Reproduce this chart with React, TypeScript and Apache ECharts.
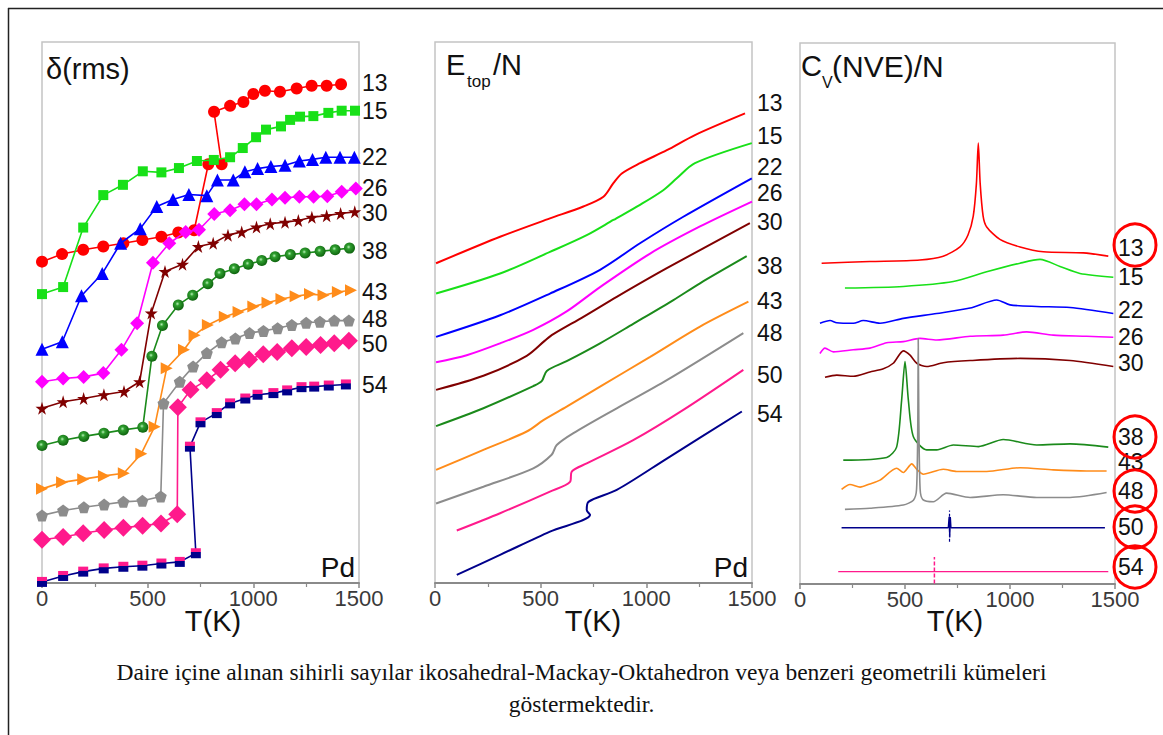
import React, { useEffect, useRef } from "react";
import * as echarts from "echarts";

// ---------- data ----------
const clusterSizes = ["13", "15", "22", "26", "30", "38", "43", "48", "50", "54"];
const tempTicks = [0, 500, 1000, 1500];
const magicSizes = ["13", "38", "48", "50", "54"];

// delta(rms) vs T (arbitrary offset units)
const d13 = [[0,59.4],[95,60.8],[195,61.6],[290,62.2],[385,62.8],[475,63.4],[565,64.0],[645,64.8],[720,65.2],[787,77.4],[850,77.4],[814,87.1],[890,88.2],[953,88.9],[1000,90.4],[1055,91.0],[1126,90.8],[1205,91.4],[1276,91.9],[1347,91.9],[1415,92.2]];
const d15 = [[0,53.4],[100,54.7],[195,65.7],[290,71.7],[383,73.6],[477,76.1],[565,75.9],[648,76.7],[733,78.0],[813,78.2],[890,78.7],[950,80.4],[1013,82.4],[1060,83.8],[1131,84.4],[1174,85.6],[1221,86.2],[1284,86.3],[1355,86.9],[1418,87.3],[1481,87.3]];
const d22 = [[0,43.2],[96,44.6],[187,53.1],[285,57.2],[372,62.8],[465,65.5],[543,69.6],[620,70.9],[695,71.8],[780,71.6],[830,74.5],[905,74.5],[960,76.0],[1020,76.6],[1083,77.0],[1150,77.2],[1218,78.0],[1280,78.3],[1343,78.7],[1410,78.7],[1478,78.7]];
const d26 = [[0,37.2],[100,37.8],[197,38.1],[290,38.8],[376,43.1],[450,48.0],[525,59.2],[602,62.8],[680,64.9],[743,65.3],[815,68.2],[890,68.9],[958,70.0],[1015,70.0],[1088,70.9],[1150,71.2],[1218,71.4],[1285,71.4],[1350,71.5],[1418,72.3],[1485,72.9]];
const d30 = [[0,32.3],[100,33.5],[197,34.1],[293,34.8],[388,35.4],[462,37.2],[517,49.9],[582,57.6],[665,58.9],[740,62.2],[810,62.8],[880,64.3],[945,64.9],[1015,65.8],[1080,66.4],[1150,66.7],[1213,67.0],[1277,67.6],[1347,67.9],[1413,68.3],[1480,68.6]];
const d38 = [[0,25.4],[100,26.4],[198,27.1],[293,27.7],[385,28.3],[477,28.8],[520,41.9],[570,47.6],[645,51.4],[713,53.2],[785,55.3],[842,57.2],[910,58.1],[976,58.9],[1040,59.6],[1103,60.3],[1175,60.7],[1245,61.0],[1316,61.3],[1387,61.6],[1455,61.9]];
const d43 = [[0,17.4],[95,18.6],[195,19.2],[293,19.8],[387,20.3],[470,23.9],[533,28.9],[590,39.7],[672,43.1],[722,45.8],[785,47.7],[865,49.2],[930,50.1],[1000,51.1],[1067,51.8],[1133,52.5],[1200,53.0],[1268,53.4],[1332,53.2],[1400,53.8],[1462,54.1]];
const d48 = [[0,12.5],[100,13.4],[198,14.0],[294,14.5],[385,15.0],[475,15.2],[562,16.0],[575,33.2],[652,37.2],[715,40.0],[780,42.5],[850,44.5],[915,45.2],[982,46.2],[1048,46.6],[1115,47.1],[1182,47.7],[1250,48.1],[1315,48.3],[1383,48.5],[1452,48.5]];
const d50 = [[0,8.0],[100,8.5],[195,9.2],[294,9.8],[385,10.2],[476,10.6],[563,11.0],[640,12.7],[643,32.5],[703,35.7],[780,37.5],[845,39.4],[914,40.6],[980,41.3],[1047,42.3],[1113,42.7],[1182,43.4],[1250,43.6],[1318,44.0],[1383,44.3],[1452,44.8]];
const d54 = [[0,0.2],[100,1.3],[195,2.1],[292,2.7],[385,3.0],[475,3.2],[565,3.6],[652,3.9],[728,5.5],[700,25.2],[750,29.7],[827,31.4],[890,33.2],[962,34.1],[1020,34.8],[1095,35.1],[1160,35.6],[1228,36.2],[1288,36.3],[1357,36.5],[1438,36.7]];

// E_top/N vs T (offset units)
const e13 = [[5,59.1],[308,64.0],[544,67.4],[702,69.6],[797,71.4],[844,73.9],[884,75.7],[970,77.6],[1097,80.0],[1230,82.8],[1467,86.8]];
const e15 = [[5,53.5],[308,57.2],[544,61.2],[718,64.3],[844,67.1],[970,69.9],[1080,72.6],[1144,74.8],[1230,77.6],[1499,81.3]];
const e22 = [[5,45.5],[308,49.5],[544,53.5],[781,57.9],[970,62.8],[1175,67.7],[1499,74.8]];
const e26 = [[5,40.8],[150,42.1],[308,44.3],[465,46.8],[623,50.2],[781,54.7],[1018,60.9],[1254,65.9],[1500,70.5]];
const e30 = [[5,35.7],[229,38.3],[434,42.0],[520,44.8],[560,46.0],[702,49.2],[860,52.9],[1097,58.2],[1490,66.5]];
const e38 = [[5,29.0],[229,32.3],[465,36.4],[505,37.3],[529,39.2],[623,41.0],[781,44.3],[938,47.9],[1128,52.3],[1254,55.4],[1475,60.4]];
const e43 = [[5,20.9],[229,24.6],[434,28.0],[513,30.1],[623,32.6],[781,36.3],[1018,41.8],[1254,47.4],[1483,52.0]];
const e48 = [[5,14.7],[229,17.8],[465,21.2],[552,23.7],[576,25.5],[655,27.7],[860,32.3],[1097,37.5],[1459,46.2]];
const e50 = [[103,9.7],[308,12.9],[544,16.9],[639,18.7],[647,20.6],[718,22.1],[938,26.4],[1175,32.0],[1459,39.4]];
const e54 = [[103,1.5],[308,5.2],[544,9.5],[734,12.6],[718,13.5],[726,15.0],[860,17.2],[1097,23.0],[1452,31.7]];

// Cv(NVE)/N vs T (offset units)
const c13 = [[103,59.3],[333,59.6],[571,59.9],[682,60.6],[762,62.3],[800,64.5],[825,68],[840,74],[849,81.5],[858,74],[872,68],[889,66],[952,63.7],[1048,62.3],[1159,61.4],[1349,61.2],[1468,60.6]];
const c15 = [[214,54.7],[492,55.0],[730,55.9],[889,57.7],[1048,59.3],[1143,60.0],[1238,58.7],[1333,57.4],[1492,56.7]];
const c22 = [[95,48.2],[143,48.7],[175,48.3],[254,48.2],[301,48.7],[381,48.2],[492,49.1],[651,50.0],[810,51.0],[937,52.5],[1000,51.6],[1127,51.3],[1286,51.1],[1492,50.0]];
const c26 = [[95,42.6],[119,43.6],[159,42.9],[254,43.3],[333,43.6],[413,44.6],[492,44.8],[571,45.4],[651,45.1],[810,45.8],[968,46.0],[1079,46.6],[1206,46.0],[1365,45.8],[1492,45.6]];
const c30 = [[119,38.2],[175,38.6],[254,38.4],[333,39.2],[397,39.8],[444,40.8],[492,43.1],[524,42.3],[556,40.8],[603,40.2],[682,40.9],[810,41.3],[1048,41.7],[1286,41.3],[1492,40.2]];
const c38 = [[206,22.9],[413,23.4],[460,25.3],[484,34.0],[500,41.1],[516,34.0],[540,27.2],[603,24.8],[651,24.8],[730,25.7],[850,25.4],[968,26.7],[1127,25.7],[1286,25.9],[1468,25.3]];
const c43 = [[198,17.5],[238,18.4],[286,17.9],[333,18.5],[381,19.2],[460,21.4],[492,20.6],[532,22.2],[556,21.2],[587,20.3],[682,21.2],[746,20.8],[889,20.8],[1048,21.5],[1206,21.1],[1365,20.9],[1460,20.9]];
const c48 = [[214,13.8],[333,14.0],[492,14.6],[540,15.5],[555,17.5],[561,30],[563,45.4],[566,30],[572,17.5],[585,15.6],[635,15.2],[698,16.8],[810,16.0],[968,16.5],[1127,16.0],[1286,16.0],[1460,16.9]];
const c50 = [[198,10.4],[706,10.4],[710,12.4],[713,8.6],[716,12.4],[719,10.4],[1452,10.4]];
const c50mark = [[712,7.8],[712,13.6]];
const c54 = [[182,2.3],[1468,2.3]];
const c54mark = [[640,0.1],[640,5.0]];

// ---------- styling ----------
const COLORS = ["#ff0000", "#18e018", "#0000ff", "#ff00ff", "#800000", "#1b8a1b", "#ff8c1a", "#8c8c8c", "#ff1a8c", "#00008b"];
const SANS = "'Liberation Sans', Arial, Helvetica, sans-serif";
const SERIF = "'Liberation Serif', 'DejaVu Serif', serif";
const STAR = "path://M50,0 L61,35 L98,35 L68,57 L79,91 L50,70 L21,91 L32,57 L2,35 L39,35 Z";
const PENT = "path://M50,0 L98,35 L79,91 L21,91 L2,35 Z";
const RTRI = "path://M0,0 L100,50 L0,100 Z";

const GRIDS = [
  { left: 42, top: 42, width: 317, height: 541 },
  { left: 435, top: 42, width: 317, height: 541 },
  { left: 800, top: 43, width: 315, height: 541 },
];

function buildOption() {
  const deltaData = [d13, d15, d22, d26, d30, d38, d43, d48, d50, d54];
  const etopData = [e13, e15, e22, e26, e30, e38, e43, e48, e50, e54];
  const cvData = [c13, c15, c22, c26, c30, c38, c43, c48, c50, c54];

  const greenBall = new echarts.graphic.RadialGradient(0.42, 0.4, 0.6, [
    { offset: 0, color: "#b8f0b8" },
    { offset: 0.3, color: "#2f9f2f" },
    { offset: 1, color: "#0f640f" },
  ]);
  const navyPink = new echarts.graphic.LinearGradient(0, 0, 0, 1, [
    { offset: 0, color: "#ff1a8c" },
    { offset: 0.38, color: "#ff1a8c" },
    { offset: 0.42, color: "#00008b" },
    { offset: 1, color: "#00008b" },
  ]);
  const markers: any[] = [
    { symbol: "circle", size: 12, color: COLORS[0] },
    { symbol: "rect", size: 10, color: COLORS[1] },
    { symbol: "triangle", size: 13, color: COLORS[2] },
    { symbol: "diamond", size: 14, color: COLORS[3] },
    { symbol: STAR, size: 13, color: COLORS[4] },
    { symbol: "circle", size: 11, color: greenBall },
    { symbol: RTRI, size: 12, color: COLORS[6] },
    { symbol: PENT, size: 12, color: COLORS[7] },
    { symbol: "diamond", size: 18, color: COLORS[8] },
    { symbol: "rect", size: 10, color: navyPink },
  ];

  const series: any[] = [];
  deltaData.forEach((data, i) => {
    series.push({
      type: "line", xAxisIndex: 0, yAxisIndex: 0, data,
      symbol: markers[i].symbol, symbolSize: markers[i].size, showSymbol: true,
      lineStyle: { color: COLORS[i], width: 1.6 },
      itemStyle: { color: markers[i].color, borderWidth: 0 },
      z: 2 + i,
    });
  });
  etopData.forEach((data, i) => {
    series.push({
      type: "line", xAxisIndex: 1, yAxisIndex: 1, data, showSymbol: false, smooth: 0.3,
      lineStyle: { color: COLORS[i], width: 2 },
    });
  });
  cvData.forEach((data, i) => {
    series.push({
      type: "line", xAxisIndex: 2, yAxisIndex: 2, data, showSymbol: false,
      smooth: i >= 8 ? false : 0.25,
      lineStyle: { color: COLORS[i === 8 ? 9 : i === 9 ? 8 : i], width: i >= 8 ? 1.3 : 1.6 },
    });
  });
  series.push({
    type: "line", xAxisIndex: 2, yAxisIndex: 2, data: c50mark, showSymbol: false,
    lineStyle: { color: COLORS[9], width: 1.2, type: [3, 2] },
  });
  series.push({
    type: "line", xAxisIndex: 2, yAxisIndex: 2, data: c54mark, showSymbol: false,
    lineStyle: { color: COLORS[8], width: 1.5, type: [4, 2] },
  });

  const xAxes = GRIDS.map((_, g) => ({
    type: "value", gridIndex: g, min: tempTicks[0], max: tempTicks[tempTicks.length - 1], interval: 500,
    axisLine: { show: true, lineStyle: { color: "#8a8a8a", width: 2 } },
    axisTick: { show: true, inside: false, length: 5, lineStyle: { color: "#8a8a8a", width: 1.5 } },
    minorTick: { show: true, splitNumber: 2, length: 4, lineStyle: { color: "#8a8a8a", width: 1.2 } },
    splitLine: { show: false },
    axisLabel: {
      show: true, fontSize: 22, color: "#3a3a3a", fontFamily: SANS, margin: 4,
      formatter: (v: number) => String(v),
    },
  }));
  const yAxes = GRIDS.map((_, g) => ({
    type: "value", gridIndex: g, min: 0, max: 100,
    axisLine: { show: false }, axisTick: { show: false }, axisLabel: { show: false }, splitLine: { show: false },
  }));

  const labelTexts = (x: number, ys: number[], labels: string[]) =>
    labels.map((t, i) => ({
      type: "text", x, y: ys[i], silent: true,
      style: { text: t, fontSize: 23, lineHeight: 20, fontFamily: SANS, fill: "#111", textVerticalAlign: "middle", textAlign: "left" },
    }));

  const p1Y = [83, 111, 157, 188, 213, 251, 292, 319, 344, 385];
  const p2Y = [103, 136, 167, 193, 222, 266, 301, 333, 375, 414];
  const p3Y = [248, 277, 310, 337, 363, 437, 462, 491, 527, 567];
  const circleY: Record<string, number> = { "13": 245, "38": 437, "48": 491, "50": 527, "54": 567 };

  const title = (text: string, x: number, y: number, size: number) => ({
    type: "text", x, y, silent: true,
    style: { text, fontSize: size, lineHeight: size, fontFamily: SANS, fill: "#111", textVerticalAlign: "middle" },
  });

  const graphics: any[] = [
    { type: "line", shape: { x1: 8, y1: 8.5, x2: 1163, y2: 8.5 }, style: { stroke: "#222", lineWidth: 1.5 } },
    { type: "line", shape: { x1: 8.5, y1: 8, x2: 8.5, y2: 735 }, style: { stroke: "#222", lineWidth: 1.5 } },
    // titles
    title("δ(rms)", 46, 69, 29),
    title("E", 446, 65, 29),
    { type: "text", x: 467, y: 81, style: { text: "top", fontSize: 17, lineHeight: 12, fontFamily: SANS, fill: "#111", textVerticalAlign: "middle" } },
    title("/N", 493, 65, 29),
    title("C", 801, 66, 29),
    { type: "text", x: 822, y: 82, style: { text: "V", fontSize: 16, lineHeight: 12, fontFamily: SANS, fill: "#111", textVerticalAlign: "middle" } },
    title("(NVE)/N", 832, 66, 30),
    // Pd
    { type: "text", x: 355, y: 567, style: { text: "Pd", fontSize: 28, fontFamily: SANS, fill: "#111", textVerticalAlign: "middle", textAlign: "right" } },
    { type: "text", x: 748, y: 567, style: { text: "Pd", fontSize: 28, fontFamily: SANS, fill: "#111", textVerticalAlign: "middle", textAlign: "right" } },
    // axis names
    ...[213, 593, 955].map((x) => ({
      type: "text", x, y: 621, style: { text: "T(K)", fontSize: 29, fontFamily: SANS, fill: "#111", textVerticalAlign: "middle", textAlign: "center" },
    })),
    ...labelTexts(362, p1Y, clusterSizes),
    ...labelTexts(757, p2Y, clusterSizes),
    ...labelTexts(1118, p3Y, clusterSizes),
    ...magicSizes.map((s) => ({
      type: "circle", shape: { cx: 1135, cy: circleY[s], r: 21 },
      style: { fill: "none", stroke: "#ff0000", lineWidth: 3 },
    })),
    // caption
    {
      type: "text", x: 581.5, y: 672,
      style: { text: "Daire içine alınan sihirli sayılar ikosahedral-Mackay-Oktahedron veya benzeri geometrili kümeleri", fontSize: 23.5, lineHeight: 26, fontFamily: SERIF, fill: "#111", textAlign: "center", textVerticalAlign: "middle" },
    },
    {
      type: "text", x: 581.5, y: 704,
      style: { text: "göstermektedir.", fontSize: 23.5, lineHeight: 26, fontFamily: SERIF, fill: "#111", textAlign: "center", textVerticalAlign: "middle" },
    },
  ];

  return {
    animation: false,
    backgroundColor: "#ffffff",
    grid: GRIDS.map((g) => ({ ...g, show: true, borderColor: "#c4c4c4", borderWidth: 1.5, backgroundColor: "transparent", containLabel: false })),
    xAxis: xAxes,
    yAxis: yAxes,
    series,
    graphic: { elements: graphics },
  };
}

export default function App() {
  const ref = useRef<HTMLDivElement>(null);
  useEffect(() => {
    if (!ref.current) return;
    const chart = echarts.init(ref.current, null, { renderer: "svg" });
    chart.setOption(buildOption() as any);
    return () => chart.dispose();
  }, []);
  return (
    <div
      ref={ref}
      style={{ position: "fixed", left: 0, top: 0, width: 1163, height: 735, background: "#fff" }}
    />
  );
}
